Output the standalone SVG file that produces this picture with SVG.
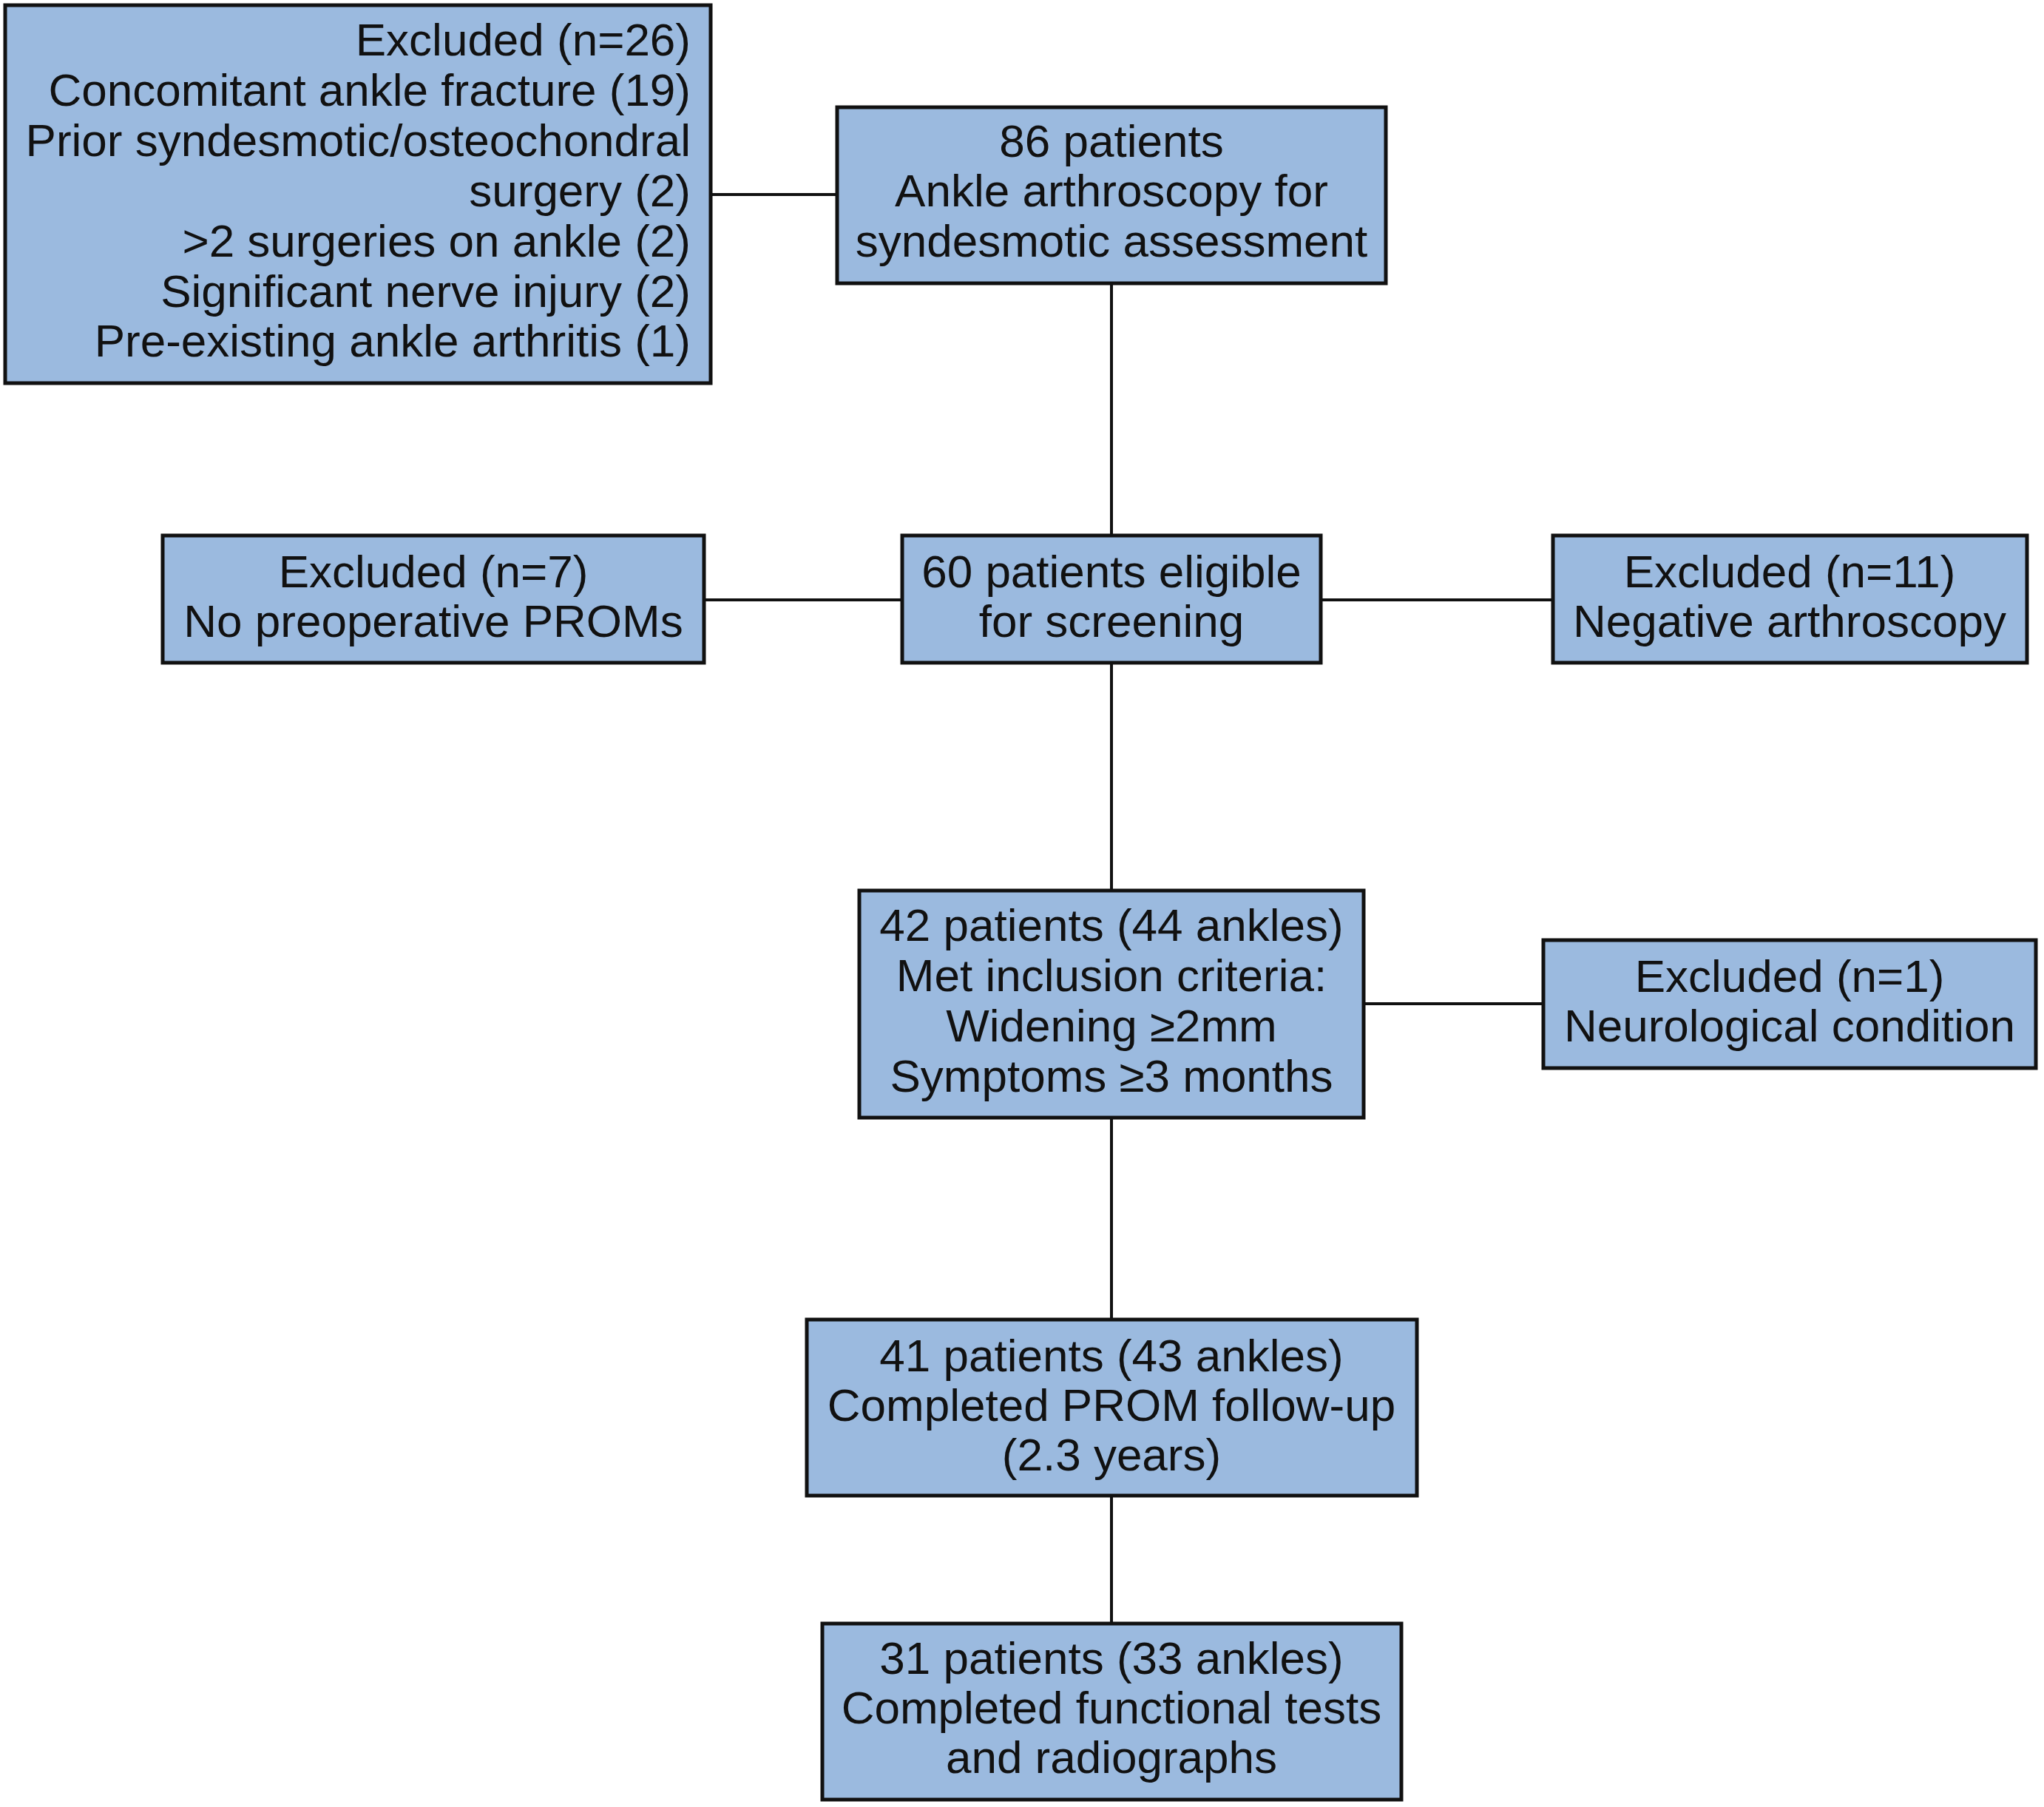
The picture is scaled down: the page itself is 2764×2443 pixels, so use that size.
<svg xmlns="http://www.w3.org/2000/svg" width="2764" height="2443" viewBox="0 0 2764 2443">
<style>
.box{fill:#9bbadf;stroke:#111;stroke-width:5}
.t{font-family:"Liberation Sans",Arial,sans-serif;font-size:62px;fill:#111}
.c{text-anchor:middle}
.r{text-anchor:end}
.ln{stroke:#111;stroke-width:4;fill:none}
</style>
<rect width="2764" height="2443" fill="#fff"/>
<g id="connectors">
<line class="ln" x1="961" y1="263" x2="1132" y2="263"/>
<line class="ln" x1="1503" y1="383" x2="1503" y2="724"/>
<line class="ln" x1="952" y1="811" x2="1220" y2="811"/>
<line class="ln" x1="1786" y1="811" x2="2100" y2="811"/>
<line class="ln" x1="1503" y1="896" x2="1503" y2="1204"/>
<line class="ln" x1="1844" y1="1357" x2="2087" y2="1357"/>
<line class="ln" x1="1503" y1="1511" x2="1503" y2="1784"/>
<line class="ln" x1="1503" y1="2022" x2="1503" y2="2195"/>
</g>
<g id="excluded26">
<rect class="box" x="7" y="7" width="954" height="511"/>
<text class="t r" x="934" y="75">Excluded (n=26)</text>
<text class="t r" x="934" y="143">Concomitant ankle fracture (19)</text>
<text class="t r" x="934" y="211">Prior syndesmotic/osteochondral</text>
<text class="t r" x="934" y="279">surgery (2)</text>
<text class="t r" x="934" y="347">&gt;2 surgeries on ankle (2)</text>
<text class="t r" x="934" y="415">Significant nerve injury (2)</text>
<text class="t r" x="934" y="482">Pre-existing ankle arthritis (1)</text>
</g>
<g id="patients86">
<rect class="box" x="1132" y="145" width="742" height="238"/>
<text class="t c" x="1503" y="212">86 patients</text>
<text class="t c" x="1503" y="279">Ankle arthroscopy for</text>
<text class="t c" x="1503" y="347">syndesmotic assessment</text>
</g>
<g id="excluded7">
<rect class="box" x="220" y="724" width="732" height="172"/>
<text class="t c" x="586" y="794">Excluded (n=7)</text>
<text class="t c" x="586" y="861">No preoperative PROMs</text>
</g>
<g id="eligible60">
<rect class="box" x="1220" y="724" width="566" height="172"/>
<text class="t c" x="1503" y="794">60 patients eligible</text>
<text class="t c" x="1503" y="861">for screening</text>
</g>
<g id="excluded11">
<rect class="box" x="2100" y="724" width="641" height="172"/>
<text class="t c" x="2420" y="794">Excluded (n=11)</text>
<text class="t c" x="2420" y="861">Negative arthroscopy</text>
</g>
<g id="patients42">
<rect class="box" x="1162" y="1204" width="682" height="307"/>
<text class="t c" x="1503" y="1272">42 patients (44 ankles)</text>
<text class="t c" x="1503" y="1340">Met inclusion criteria:</text>
<text class="t c" x="1503" y="1408">Widening ≥2mm</text>
<text class="t c" x="1503" y="1476">Symptoms ≥3 months</text>
</g>
<g id="excluded1">
<rect class="box" x="2087" y="1271" width="666" height="173"/>
<text class="t c" x="2420" y="1341">Excluded (n=1)</text>
<text class="t c" x="2420" y="1408">Neurological condition</text>
</g>
<g id="patients41">
<rect class="box" x="1091" y="1784" width="825" height="238"/>
<text class="t c" x="1503" y="1854">41 patients (43 ankles)</text>
<text class="t c" x="1503" y="1921">Completed PROM follow-up</text>
<text class="t c" x="1503" y="1988">(2.3 years)</text>
</g>
<g id="patients31">
<rect class="box" x="1112" y="2195" width="783" height="238"/>
<text class="t c" x="1503" y="2263">31 patients (33 ankles)</text>
<text class="t c" x="1503" y="2330">Completed functional tests</text>
<text class="t c" x="1503" y="2397">and radiographs</text>
</g>
</svg>
